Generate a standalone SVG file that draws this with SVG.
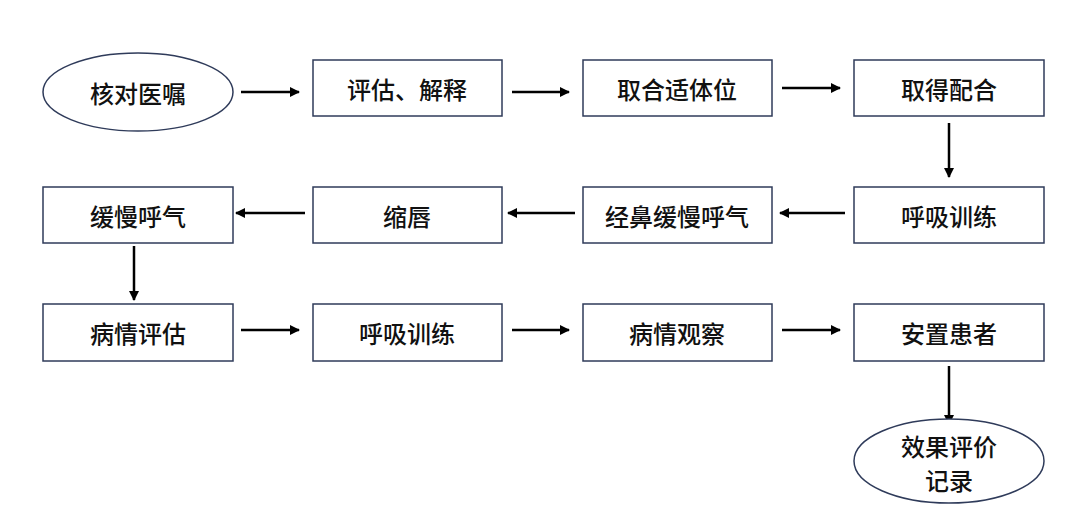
<svg xmlns="http://www.w3.org/2000/svg" width="1080" height="524" viewBox="0 0 1080 524">
<style>
.n{fill:#fff;stroke:#2f3b5a;stroke-width:1.5}
.t{font-family:"Noto Sans CJK SC","Noto Sans CJK TC",sans-serif;font-size:24px;font-weight:500;fill:#111;text-anchor:middle;dominant-baseline:central}
.c{stroke:#000;stroke-width:2.5;fill:none;marker-end:url(#ah)}
</style>
<defs>
<marker id="ah" viewBox="0 0 10 10" refX="9" refY="5" markerWidth="4" markerHeight="4" orient="auto" markerUnits="strokeWidth">
<path d="M0,0L10,5L0,10z" fill="#000"/>
</marker>
</defs>
<rect width="1080" height="524" fill="#fff"/>
<g id="connectors">
<line class="c" x1="241" y1="92" x2="299" y2="92"/>
<line class="c" x1="512" y1="92" x2="569" y2="92"/>
<line class="c" x1="782" y1="88" x2="840" y2="88"/>
<line class="c" x1="949" y1="123" x2="949" y2="177"/>
<line class="c" x1="845" y1="213" x2="780" y2="213"/>
<line class="c" x1="575" y1="213" x2="508" y2="213"/>
<line class="c" x1="305" y1="213" x2="236" y2="213"/>
<line class="c" x1="134" y1="246" x2="134" y2="300"/>
<line class="c" x1="241" y1="330" x2="299" y2="330"/>
<line class="c" x1="512" y1="330" x2="569" y2="330"/>
<line class="c" x1="782" y1="330" x2="840" y2="330"/>
<line class="c" x1="949" y1="366" x2="949" y2="424"/>
</g>
<g id="n1"><ellipse class="n" cx="138" cy="92" rx="95" ry="39"/><text class="t" x="138" y="92">核对医嘱</text></g>
<g id="n2"><rect class="n" x="313" y="60" width="189" height="56"/><text class="t" x="407" y="88">评估、解释</text></g>
<g id="n3"><rect class="n" x="583" y="60" width="189" height="56"/><text class="t" x="677" y="88">取合适体位</text></g>
<g id="n4"><rect class="n" x="854" y="60" width="190" height="56"/><text class="t" x="949" y="88">取得配合</text></g>
<g id="n5"><rect class="n" x="854" y="187" width="190" height="56"/><text class="t" x="949" y="215">呼吸训练</text></g>
<g id="n6"><rect class="n" x="583" y="187" width="189" height="56"/><text class="t" x="677" y="215">经鼻缓慢呼气</text></g>
<g id="n7"><rect class="n" x="313" y="187" width="189" height="56"/><text class="t" x="407" y="215">缩唇</text></g>
<g id="n8"><rect class="n" x="43" y="187" width="190" height="56"/><text class="t" x="138" y="215">缓慢呼气</text></g>
<g id="n9"><rect class="n" x="43" y="304" width="190" height="57"/><text class="t" x="138" y="332">病情评估</text></g>
<g id="n10"><rect class="n" x="313" y="304" width="189" height="57"/><text class="t" x="407" y="332">呼吸训练</text></g>
<g id="n11"><rect class="n" x="583" y="304" width="189" height="57"/><text class="t" x="677" y="332">病情观察</text></g>
<g id="n12"><rect class="n" x="854" y="304" width="190" height="57"/><text class="t" x="949" y="332">安置患者</text></g>
<g id="n13"><ellipse class="n" cx="949" cy="461" rx="95" ry="42"/><text class="t" x="949" y="445">效果评价</text><text class="t" x="949" y="479">记录</text></g>
</svg>
